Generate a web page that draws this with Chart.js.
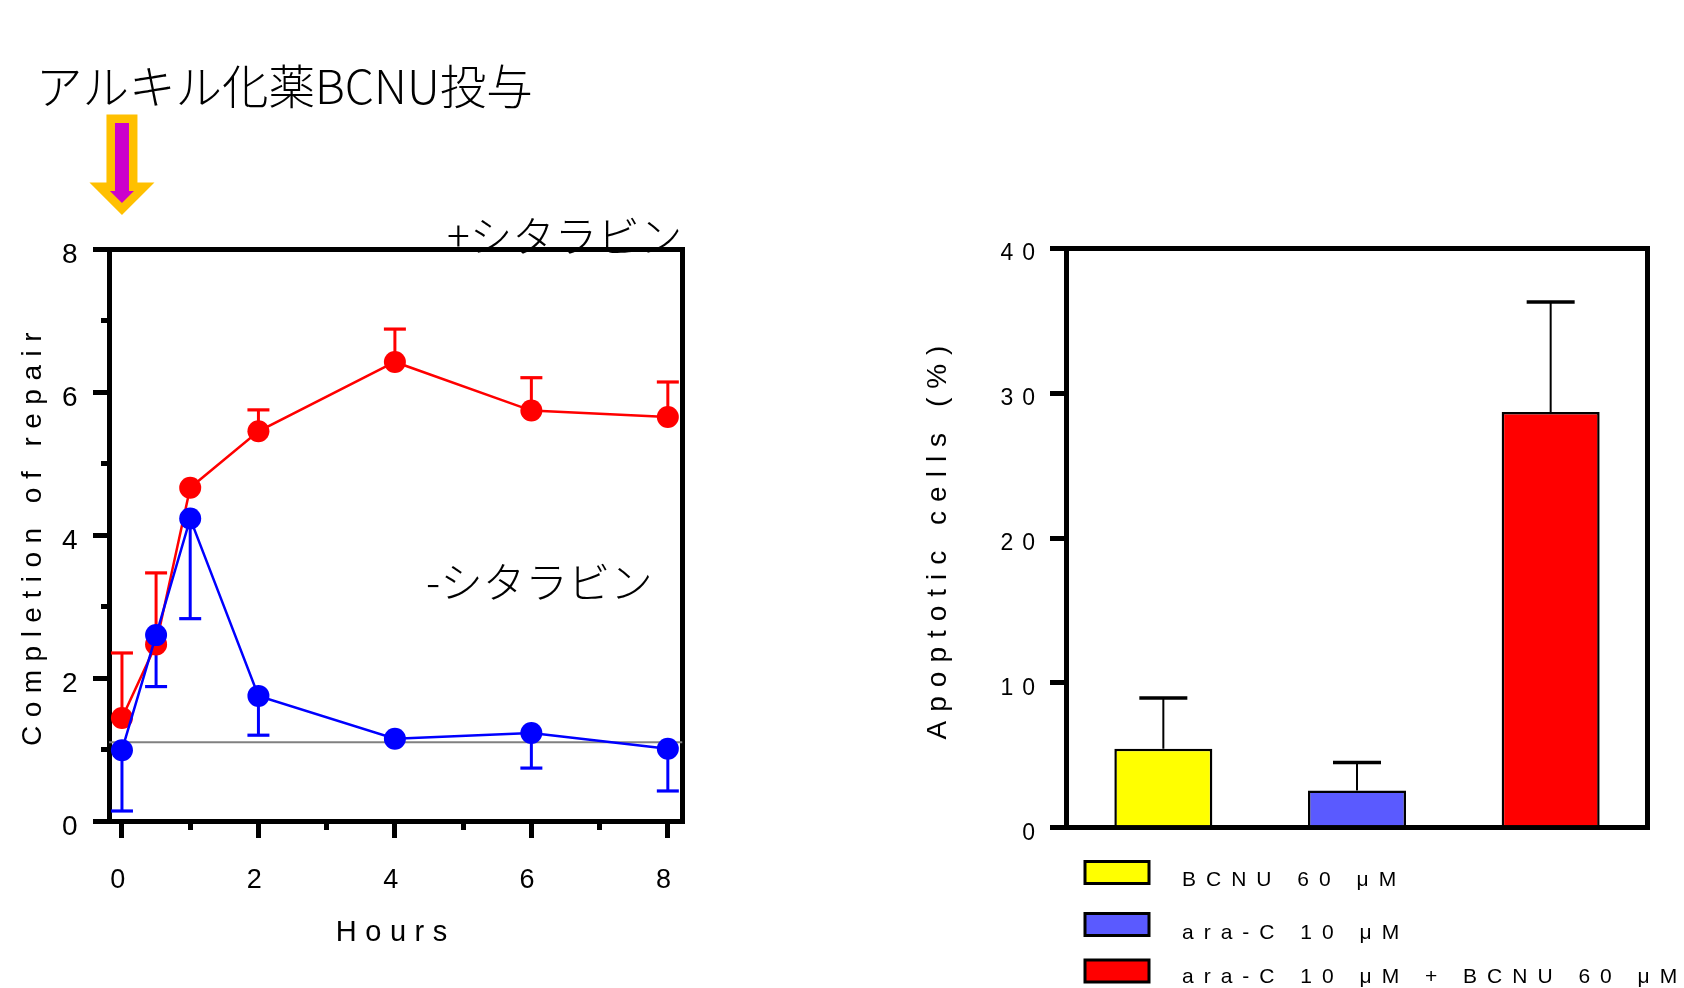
<!DOCTYPE html>
<html lang="ja">
<head>
<meta charset="utf-8">
<title>BCNU + ara-C</title>
<script src="https://cdn.jsdelivr.net/npm/chart.js@4.4.0/dist/chart.umd.min.js"></script>
<style>
  html, body { margin: 0; padding: 0; background: #ffffff; }
  #wrap { position: relative; width: 1684px; height: 988px; overflow: hidden; background: #ffffff; }
  canvas { position: absolute; top: 0; }
  #repair { left: 0; }
  #apoptosis { left: 842px; }
</style>
</head>
<body>
<div id="wrap">
  <canvas id="repair" width="842" height="988"></canvas>
  <canvas id="apoptosis" width="842" height="988"></canvas>
</div>
<script>
// ---------- Left panel: repair time course ----------
const hours = [0, 0.5, 1, 2, 4, 6, 8];
const repairWithAraC = [1.44, 2.47, 4.66, 5.45, 6.42, 5.74, 5.65];
const repairWithAraCErr = [0.91, 1.0, 0, 0.3, 0.46, 0.46, 0.49];
const repairWithoutAraC = [0.99, 2.6, 4.23, 1.75, 1.15, 1.23, 1.01];
const repairWithoutAraCErr = [0.85, 0.72, 1.4, 0.55, 0, 0.49, 0.59];
const repairBaseline = 1.1;
const hourTicks = [0, 2, 4, 6, 8];
const hourMinorTicks = [1, 3, 5, 7];
const hourRange = [-0.19, 8.215];
const repairTicks = [0, 2, 4, 6, 8];
const repairMinorTicks = [1, 3, 5, 7];
const repairRange = [0, 8];

// ---------- Right panel: apoptosis ----------
const treatments = ['BCNU 60 μM', 'ara-C 10 μM', 'ara-C 10 μM + BCNU 60 μM'];
const apoptoticCells = [5.45, 2.57, 28.7];
const apoptoticCellsErr = [3.5, 1.93, 7.6];
const apoptosisTicks = [0, 10, 20, 30, 40];
const apoptosisRange = [0, 40];
const treatmentColors = ['#FFFF00', '#5A5AFF', '#FF0000'];

// ---------- shared styling ----------
const LATIN = '"Liberation Sans", Arial, sans-serif';
const JP = '"Noto Sans CJK JP", "Noto Sans", sans-serif';
Chart.defaults.font.family = LATIN;
Chart.defaults.color = '#000000';

const toTicks = values => scale => { scale.ticks = values.map(v => ({ value: v })); };

// letter-spaced lettering for every text the chart draws
const spacingPlugin = {
  id: 'spacing',
  beforeDraw(chart, args, opts) {
    chart.ctx.letterSpacing = (opts.px || 0) + 'px';
  }
};

// vertical error bars with a cap, one direction per dataset
const errorBarPlugin = {
  id: 'errorBars',
  beforeDatasetsDraw(chart) {
    const ctx = chart.ctx;
    chart.data.datasets.forEach((ds, di) => {
      if (!ds.errorValues) return;
      const meta = chart.getDatasetMeta(di);
      const yScale = chart.scales[meta.yAxisID];
      ctx.save();
      ctx.strokeStyle = ds.errorColor;
      ctx.lineCap = 'butt';
      meta.data.forEach((el, i) => {
        const err = ds.errorValues[i];
        if (!err) return;
        const raw = ds.data[i];
        const v = typeof raw === 'object' ? raw.y : raw;
        const yEnd = yScale.getPixelForValue(v + ds.errorDirection * err);
        const yStart = yScale.getPixelForValue(v);
        ctx.lineWidth = ds.errorLineWidth;
        ctx.beginPath();
        ctx.moveTo(el.x, yStart);
        ctx.lineTo(el.x, yEnd);
        ctx.stroke();
        ctx.lineWidth = ds.errorCapThickness;
        ctx.beginPath();
        ctx.moveTo(el.x - ds.errorCapHalf, yEnd);
        ctx.lineTo(el.x + ds.errorCapHalf, yEnd);
        ctx.stroke();
      });
      ctx.restore();
    });
  }
};

// plain frame edge (top / right) drawn as an empty axis
function frameAxis(position, range) {
  return {
    type: 'linear', position, min: range[0], max: range[1], weight: 0,
    ticks: { display: false },
    grid: { display: false, drawTicks: false, lineWidth: 5 },
    border: { display: true, color: '#000000', width: 5 },
    afterFit: s => { if (s.isHorizontal()) s.height = 0; else s.width = 0; }
  };
}

// heading, dosing arrow and curve labels on the left panel
const repairNotes = {
  id: 'repairNotes',
  beforeDraw(chart) {
    const ctx = chart.ctx;
    ctx.save();
    ctx.letterSpacing = '0px';
    ctx.fillStyle = '#000000';
    ctx.textAlign = 'left';
    ctx.textBaseline = 'middle';
    ctx.font = '300 46.5px ' + JP;
    ctx.fillText('アルキル化薬BCNU投与', 36, 86);
    ctx.font = '300 42.5px ' + JP;
    ctx.fillText('+シタラビン', 447, 236);
    ctx.fillText('-シタラビン', 426, 582);

    // dosing arrow above time zero: magenta body inside a wide amber outline
    const cx = chart.scales.x.getPixelForValue(0);
    ctx.beginPath();
    ctx.moveTo(cx - 7, 123);
    ctx.lineTo(cx + 7, 123);
    ctx.lineTo(cx + 7, 191);
    ctx.lineTo(cx + 12, 191);
    ctx.lineTo(cx, 203);
    ctx.lineTo(cx - 12, 191);
    ctx.lineTo(cx - 7, 191);
    ctx.closePath();
    ctx.lineJoin = 'miter';
    ctx.miterLimit = 3;
    ctx.lineWidth = 17;
    ctx.strokeStyle = '#FFC000';
    ctx.fillStyle = '#CC00CC';
    ctx.stroke();
    ctx.fill();
    ctx.restore();
  }
};

const toPoints = values => values.map((v, i) => ({ x: hours[i], y: v }));

new Chart(document.getElementById('repair'), {
  type: 'line',
  data: {
    datasets: [
      {
        label: '-シタラビン',
        data: toPoints(repairWithoutAraC),
        borderColor: '#0000FF', backgroundColor: '#0000FF',
        pointBackgroundColor: '#0000FF', pointBorderWidth: 0,
        pointRadius: 11, borderWidth: 2.5, tension: 0, order: 0,
        errorValues: repairWithoutAraCErr, errorDirection: -1, errorColor: '#0000FF',
        errorLineWidth: 3, errorCapThickness: 3.2, errorCapHalf: 11
      },
      {
        label: '+シタラビン',
        data: toPoints(repairWithAraC),
        borderColor: '#FF0000', backgroundColor: '#FF0000',
        pointBackgroundColor: '#FF0000', pointBorderWidth: 0,
        pointRadius: 11, borderWidth: 2.5, tension: 0, order: 1,
        errorValues: repairWithAraCErr, errorDirection: 1, errorColor: '#FF0000',
        errorLineWidth: 3, errorCapThickness: 3.2, errorCapHalf: 11
      },
      {
        label: 'baseline',
        data: [{ x: hourRange[0], y: repairBaseline }, { x: hourRange[1], y: repairBaseline }],
        borderColor: '#808080', borderWidth: 2, pointRadius: 0, order: 2
      }
    ]
  },
  options: {
    responsive: false,
    animation: false,
    events: [],
    layout: { padding: { left: 0, top: 249, right: 159.5, bottom: 0 } },
    plugins: {
      legend: { display: false },
      tooltip: { enabled: false },
      spacing: { px: 8.5 }
    },
    scales: {
      x: {
        type: 'linear', position: 'bottom', weight: 1,
        min: hourRange[0], max: hourRange[1],
        afterBuildTicks: toTicks(hourTicks),
        ticks: { font: { size: 27 }, padding: 26, maxRotation: 0, autoSkip: false, color: '#000000' },
        grid: { drawOnChartArea: false, tickLength: 17, lineWidth: 5, color: '#000000' },
        border: { display: true, color: '#000000', width: 5 },
        title: { display: true, text: 'Hours', font: { size: 29 }, padding: { top: 0, bottom: 38 }, color: '#000000' },
        afterFit: s => { s.height = 167; }
      },
      xMinor: {
        type: 'linear', position: 'bottom', weight: 0,
        min: hourRange[0], max: hourRange[1],
        afterBuildTicks: toTicks(hourMinorTicks),
        ticks: { display: false },
        grid: { drawOnChartArea: false, tickLength: 9, lineWidth: 5, color: '#000000' },
        border: { display: false },
        afterFit: s => { s.height = 0; }
      },
      y: {
        type: 'linear', position: 'left', weight: 1,
        min: repairRange[0], max: repairRange[1],
        afterBuildTicks: toTicks(repairTicks),
        ticks: { font: { size: 28 }, padding: 7, labelOffset: 6, color: '#000000' },
        grid: { drawOnChartArea: false, tickLength: 16, lineWidth: 5, color: '#000000' },
        border: { display: true, color: '#000000', width: 5 },
        title: { display: true, text: 'Completion of repair', font: { size: 28 }, padding: { top: 16, bottom: 0 }, color: '#000000' },
        afterFit: s => { s.width = 109; }
      },
      yMinor: {
        type: 'linear', position: 'left', weight: 0,
        min: repairRange[0], max: repairRange[1],
        afterBuildTicks: toTicks(repairMinorTicks),
        ticks: { display: false },
        grid: { drawOnChartArea: false, tickLength: 8, lineWidth: 5, color: '#000000' },
        border: { display: false },
        afterFit: s => { s.width = 0; }
      },
      xTop: frameAxis('top', hourRange),
      yRight: frameAxis('right', repairRange)
    }
  },
  plugins: [spacingPlugin, repairNotes, errorBarPlugin]
});

// legend rows under the bar panel
const legendLayout = { boxX: 243, boxW: 64, boxH: 22, textX: 340, boxTops: [861.5, 913.5, 960], textYs: [880, 933, 977] };
const treatmentLegend = {
  id: 'treatmentLegend',
  afterDraw(chart) {
    const ctx = chart.ctx;
    const labels = chart.data.labels;
    const colors = chart.data.datasets[0].backgroundColor;
    ctx.save();
    ctx.letterSpacing = '10px';
    ctx.font = '21px ' + LATIN;
    ctx.textAlign = 'left';
    ctx.textBaseline = 'middle';
    labels.forEach((label, i) => {
      const top = legendLayout.boxTops[i];
      ctx.fillStyle = colors[i];
      ctx.fillRect(legendLayout.boxX, top, legendLayout.boxW, legendLayout.boxH);
      ctx.lineWidth = 3;
      ctx.strokeStyle = '#000000';
      ctx.strokeRect(legendLayout.boxX, top, legendLayout.boxW, legendLayout.boxH);
      ctx.fillStyle = '#000000';
      ctx.fillText(label, legendLayout.textX, legendLayout.textYs[i]);
    });
    ctx.restore();
  }
};

new Chart(document.getElementById('apoptosis'), {
  type: 'bar',
  data: {
    labels: treatments,
    datasets: [{
      label: 'Apoptotic cells (%)',
      data: apoptoticCells,
      backgroundColor: treatmentColors,
      borderColor: '#000000',
      borderWidth: 2.5,
      barPercentage: 0.506,
      categoryPercentage: 1,
      errorValues: apoptoticCellsErr, errorDirection: 1, errorColor: '#000000',
      errorLineWidth: 2, errorCapThickness: 3.5, errorCapHalf: 24
    }]
  },
  options: {
    responsive: false,
    animation: false,
    events: [],
    layout: { padding: { left: 0, top: 248.3, right: 36.5, bottom: 0 } },
    plugins: {
      legend: { display: false },
      tooltip: { enabled: false },
      spacing: { px: 9 }
    },
    scales: {
      x: {
        type: 'category', position: 'bottom', offset: true,
        ticks: { display: false },
        grid: { display: false, drawTicks: false, lineWidth: 5 },
        border: { display: true, color: '#000000', width: 5 },
        afterFit: s => { s.height = 160.3; }
      },
      y: {
        type: 'linear', position: 'left',
        min: apoptosisRange[0], max: apoptosisRange[1],
        afterBuildTicks: toTicks(apoptosisTicks),
        ticks: { font: { size: 23 }, padding: 6, labelOffset: 5.5, color: '#000000' },
        grid: { drawOnChartArea: false, tickLength: 16.5, lineWidth: 5, color: '#000000' },
        border: { display: true, color: '#000000', width: 5 },
        title: { display: true, text: 'Apoptotic cells (%)', font: { size: 28 }, padding: { top: 79, bottom: 0 }, color: '#000000' },
        afterFit: s => { s.width = 224.5; }
      },
      xTop: frameAxis('top', [0, 1]),
      yRight: frameAxis('right', apoptosisRange)
    }
  },
  plugins: [spacingPlugin, errorBarPlugin, treatmentLegend]
});
</script>
</body>
</html>
